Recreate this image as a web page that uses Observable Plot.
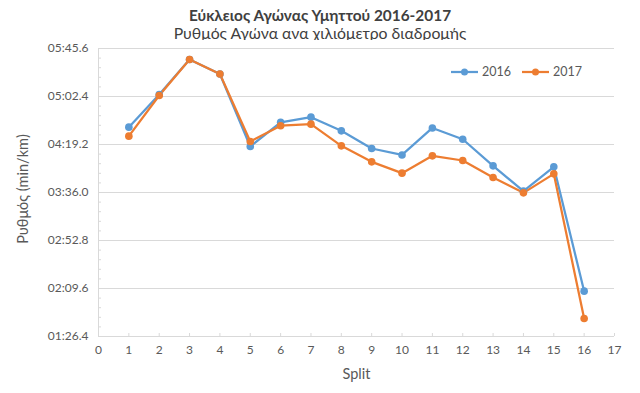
<!DOCTYPE html>
<html>
<head>
<meta charset="utf-8">
<script src="https://cdn.jsdelivr.net/npm/d3@7"></script>
<script src="https://cdn.jsdelivr.net/npm/@observablehq/plot@0.6"></script>
<style>
  html, body { margin: 0; padding: 0; background: #fff; }
  #wrap { position: relative; width: 640px; height: 393px; font-family: Lato, Roboto, "Open Sans", sans-serif; color: #595959; overflow: hidden; }
  #title { position: absolute; left: 0; width: 640px; top: 5px; text-align: center; font-size: 15.4px; font-weight: bold; color: #404040; line-height: 20px; }
  #subtitle { position: absolute; left: 0; width: 640px; top: 23px; text-align: center; font-size: 15.8px; color: #404040; line-height: 20px; }
  #chart { position: absolute; left: 0; top: 40px; }
  #ylabel { position: absolute; left: 23px; top: 189px; width: 0; height: 0; }
  #ylabel span { position: absolute; left: 0; top: 0; white-space: nowrap; font-size: 14.5px; color: #595959; transform: translate(-50%, -50%) rotate(-90deg); line-height: 18px; }
  #legend { position: absolute; top: 64px; left: 450px; font-size: 12.5px; color: #595959; display: flex; align-items: center; }
  .item { display: flex; align-items: center; margin-right: 10px; }
  .item svg { margin-right: 3px; }
</style>
</head>
<body>
<div id="wrap">
  <div id="title"></div>
  <div id="subtitle"></div>
  <div id="chart"></div>
  <div id="ylabel"><span></span></div>
  <div id="legend"></div>
</div>
<script>
// Data (pace in seconds per km)
const splits = [1, 2, 3, 4, 5, 6, 7, 8, 9, 10, 11, 12, 13, 14, 15, 16];
const pace2016 = [274.8, 304.2, 335.7, 322.7, 257.4, 279.2, 283.8, 271.5, 255.6, 249.8, 274.1, 263.9, 240.0, 217.2, 239.1, 127.2];
const pace2017 = [266.7, 303.3, 335.7, 322.7, 261.9, 276.1, 277.5, 258.0, 243.6, 233.4, 249.0, 244.8, 229.5, 215.7, 232.8, 102.6];
const seriesNames = ["2016", "2017"];
const seriesColors = ["#5B9BD5", "#ED7D31"];
const yTicks = [86.4, 129.6, 172.8, 216.0, 259.2, 302.4, 345.6];
const yTickLabels = ["01:26.4", "02:09.6", "02:52.8", "03:36.0", "04:19.2", "05:02.4", "05:45.6"];
const xTicks = [0, 1, 2, 3, 4, 5, 6, 7, 8, 9, 10, 11, 12, 13, 14, 15, 16, 17];
const titleText = "Εύκλειος Αγώνας Υμηττού 2016-2017";
const subtitleText = "Ρυθμός Αγώνα ανα χιλιόμετρο διαδρομής";
const xLabel = "Split";
const yLabel = "Ρυθμός (min/km)";

document.getElementById("title").textContent = titleText;
document.getElementById("subtitle").textContent = subtitleText;
document.querySelector("#ylabel span").textContent = yLabel;

const rows = [];
splits.forEach((s, i) => {
  rows.push({split: s, pace: pace2016[i], year: seriesNames[0]});
});
splits.forEach((s, i) => {
  rows.push({split: s, pace: pace2017[i], year: seriesNames[1]});
});

// minor ticks: 5 subdivisions per major
const minorTicks = [];
for (let i = 0; i < yTicks.length - 1; i++) {
  for (let k = 1; k < 5; k++) minorTicks.push(yTicks[i] + (yTicks[i + 1] - yTicks[i]) * k / 5);
}
const labelOf = new Map(yTicks.map((t, i) => [t, yTickLabels[i]]));

const grid = "#d9d9d9";
const font = "Lato, Roboto, 'Open Sans', sans-serif";

const plot = Plot.plot({
  width: 640,
  height: 353,
  marginLeft: 98,
  marginRight: 26,
  marginTop: 8,
  marginBottom: 57,
  style: {fontFamily: font, fontSize: "12px", color: "#595959", background: "white"},
  x: {domain: [0, 17], label: null},
  y: {domain: [86.4, 345.6], label: null},
  color: {domain: seriesNames, range: seriesColors},
  marks: [
    Plot.gridY(yTicks, {stroke: grid, strokeOpacity: 1, strokeWidth: 1}),
    Plot.ruleX([0], {stroke: grid, strokeWidth: 1}),
    Plot.axisY(minorTicks, {tickSize: -3, text: null, stroke: grid, strokeOpacity: 1, label: null}),
    Plot.axisY(yTicks, {tickSize: 0, tickPadding: 10, tickFormat: d => labelOf.get(d), fill: "#595959", fontSize: 12, label: null}),
    Plot.axisX(xTicks, {tickSize: -3, text: null, stroke: grid, strokeOpacity: 1, label: null}),
    Plot.axisX(xTicks, {tickSize: 0, tickPadding: 9, fill: "#595959", fontSize: 12, label: null}),
    Plot.text([xLabel], {frameAnchor: "bottom", dy: 42, fontSize: 14.5, fill: "#595959"}),
    Plot.line(rows, {x: "split", y: "pace", stroke: "year", strokeWidth: 2.25, z: "year"}),
    Plot.dot(rows, {x: "split", y: "pace", fill: "year", r: 3.8, stroke: null})
  ]
});
document.getElementById("chart").appendChild(plot);

// legend
const legend = document.getElementById("legend");
seriesNames.forEach((name, i) => {
  const item = document.createElement("div");
  item.className = "item";
  item.innerHTML = `<svg width="29" height="10"><line x1="1" x2="28" y1="5" y2="5" stroke="${seriesColors[i]}" stroke-width="2.25"/><circle cx="14.5" cy="5" r="3.5" fill="${seriesColors[i]}"/></svg><span>${name}</span>`;
  legend.appendChild(item);
});
</script>
</body>
</html>
